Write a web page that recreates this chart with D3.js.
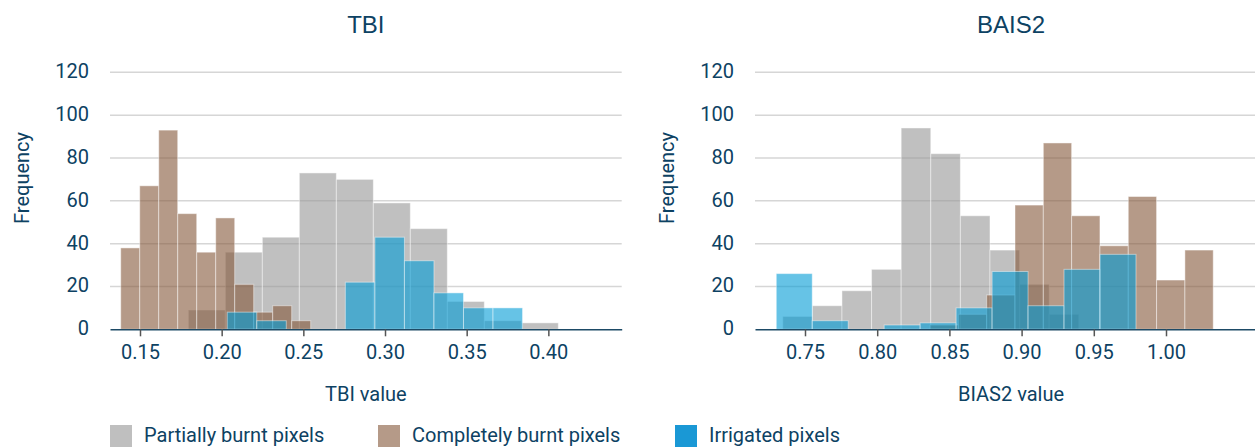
<!DOCTYPE html>
<html>
<head>
<meta charset="utf-8">
<script src="https://cdn.jsdelivr.net/npm/d3@7"></script>
<style>
  html, body { margin: 0; padding: 0; background: #fff; }
  svg { display: block; }
  text { font-family: Roboto, "Noto Sans", sans-serif; fill: #0d4263; }
</style>
</head>
<body>
<svg id="chart" width="1255" height="448"></svg>
<script>
// ---------- DATA ----------
const yTicks = [0, 20, 40, 60, 80, 100, 120];

// TBI chart
const tbiTicks = [0.15, 0.20, 0.25, 0.30, 0.35, 0.40];
const tbiPartialStart = 0.1796, tbiPartialWidth = 0.02265;
const tbiPartialCounts = [9, 36, 43, 73, 70, 59, 47, 13, 4, 3];
const tbiCompleteStart = 0.1382, tbiCompleteWidth = 0.01163;
const tbiCompleteCounts = [38, 67, 93, 54, 36, 52, 21, 8, 11, 4];
const tbiIrrigatedStart = 0.2034, tbiIrrigatedWidth = 0.01808;
const tbiIrrigatedCounts = [8, 4, 0, 0, 22, 43, 32, 17, 10, 10];

// BAIS2 chart
const baisTicks = [0.75, 0.80, 0.85, 0.90, 0.95, 1.00];
const baisPartialStart = 0.7346, baisPartialWidth = 0.0205;
const baisPartialCounts = [6, 11, 18, 28, 94, 82, 53, 37, 21, 7];
const baisCompleteStart = 0.8366, baisCompleteWidth = 0.01961;
const baisCompleteCounts = [2, 7, 16, 58, 87, 53, 39, 62, 23, 37];
const baisIrrigatedStart = 0.7301, baisIrrigatedWidth = 0.02491;
const baisIrrigatedCounts = [26, 4, 0, 2, 3, 10, 27, 11, 28, 35];

const seriesNames = ["Partially burnt pixels", "Completely burnt pixels", "Irrigated pixels"];
const seriesColors = ["#969696", "#845739", "#009bd5"];
const legendColors = ["#bfbfbf", "#b59a88", "#1a98d5"];

// ---------- DRAW ----------
const svg = d3.select("#chart");
const textColor = "#0d4263";

function bins(start, width, counts) {
  return counts.map((c, i) => ({ x0: start + i * width, x1: start + (i + 1) * width, n: c }));
}

function panel(opts) {
  const g = svg.append("g");
  const x = d3.scaleLinear().domain(opts.domain).range(opts.range);
  const y = d3.scaleLinear().domain([0, 120]).range([329.3, 72.3]);

  // grid
  g.append("g").selectAll("line").data(yTicks.filter(d => d > 0)).join("line")
    .attr("x1", opts.range[0]).attr("x2", opts.range[1])
    .attr("y1", d => y(d)).attr("y2", d => y(d))
    .attr("stroke", "#d6d6d6").attr("stroke-width", 1.5);

  // y labels
  g.append("g").selectAll("text").data(yTicks).join("text")
    .attr("x", opts.range[0] - 21).attr("y", d => y(d))
    .attr("dy", "0.3em").attr("text-anchor", "end")
    .style("font-size", "20px").text(d => d);

  // bars
  opts.series.forEach((s, i) => {
    g.append("g").selectAll("rect").data(bins(s.start, s.width, s.counts).filter(d => d.n > 0)).join("rect")
      .attr("x", d => x(d.x0)).attr("width", d => x(d.x1) - x(d.x0))
      .attr("y", d => y(d.n)).attr("height", d => y(0) - y(d.n))
      .attr("fill", seriesColors[i]).attr("fill-opacity", 0.6)
      .attr("stroke", "#ffffff").attr("stroke-opacity", 0.45).attr("stroke-width", 1);
  });

  // x axis
  const axis = d3.axisBottom(x).tickValues(opts.ticks).tickFormat(d3.format(".2f")).tickSize(7).tickSizeOuter(0);
  const ax = g.append("g").attr("transform", `translate(0,${y(0)})`).call(axis);
  ax.select(".domain").attr("stroke", "#1d4a66").attr("stroke-width", 1.5);
  ax.selectAll(".tick line").attr("stroke", "#555").attr("stroke-width", 1.5);
  ax.selectAll(".tick text").attr("y", 16).attr("dy", "0.71em")
    .style("font-size", "20px").style("font-family", "Roboto, sans-serif").attr("fill", textColor);

  // titles
  const cx = (opts.range[0] + opts.range[1]) / 2;
  g.append("text").attr("x", cx).attr("y", 33).attr("text-anchor", "middle")
    .style("font-size", "24px").style("font-family", "'Liberation Sans', Arial, sans-serif").text(opts.title);
  g.append("text").attr("x", cx).attr("y", 401).attr("text-anchor", "middle")
    .style("font-size", "20px").text(opts.xLabel);
  g.append("text").attr("transform", `translate(${opts.range[0] - 88},178) rotate(-90)`)
    .attr("dy", "0.35em").attr("text-anchor", "middle")
    .style("font-size", "20px").text("Frequency");
}

panel({
  title: "TBI", xLabel: "TBI value",
  domain: [0.131633, 0.444907], range: [110, 621.7], ticks: tbiTicks,
  series: [
    { start: tbiPartialStart, width: tbiPartialWidth, counts: tbiPartialCounts },
    { start: tbiCompleteStart, width: tbiCompleteWidth, counts: tbiCompleteCounts },
    { start: tbiIrrigatedStart, width: tbiIrrigatedWidth, counts: tbiIrrigatedCounts }
  ]
});
panel({
  title: "BAIS2", xLabel: "BIAS2 value",
  domain: [0.715374, 1.069945], range: [755, 1267], ticks: baisTicks,
  series: [
    { start: baisPartialStart, width: baisPartialWidth, counts: baisPartialCounts },
    { start: baisCompleteStart, width: baisCompleteWidth, counts: baisCompleteCounts },
    { start: baisIrrigatedStart, width: baisIrrigatedWidth, counts: baisIrrigatedCounts }
  ]
});

// legend
const legendX = [110, 378, 675];
const lg = svg.append("g").selectAll("g").data(seriesNames).join("g")
  .attr("transform", (d, i) => `translate(${legendX[i]},425)`);
lg.append("rect").attr("width", 22).attr("height", 22).attr("fill", (d, i) => legendColors[i]);
lg.append("text").attr("x", 34).attr("y", 17).style("font-size", "20px").text(d => d);
</script>
</body>
</html>
